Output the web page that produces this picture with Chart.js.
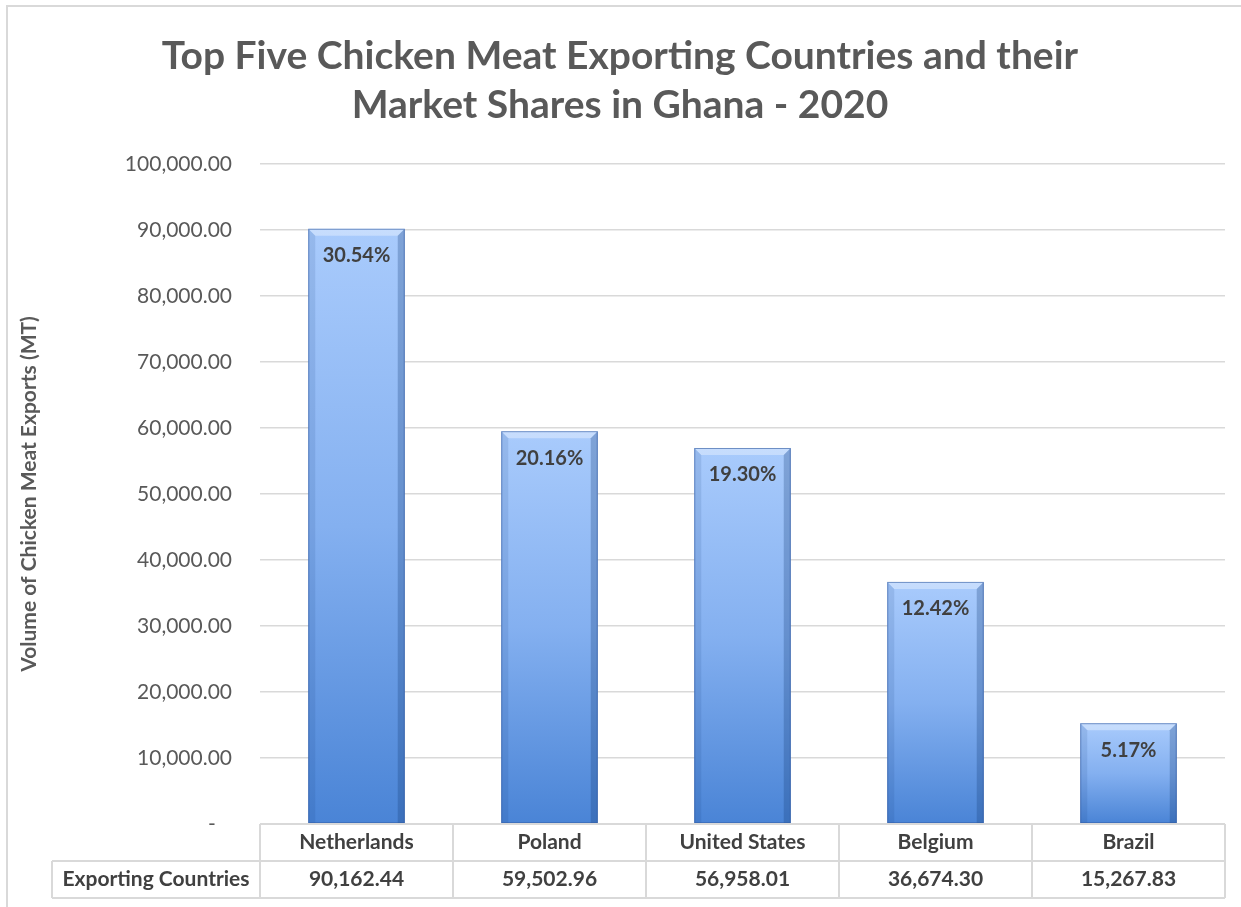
<!DOCTYPE html>
<html>
<head>
<meta charset="utf-8">
<script src="https://cdn.jsdelivr.net/npm/chart.js@4/dist/chart.umd.min.js"></script>
<style>body{margin:0;background:#fff}</style>
</head>
<body>
<canvas id="exports" width="1241" height="907"></canvas>
<script>
// chart values
const countries = ['Netherlands', 'Poland', 'United States', 'Belgium', 'Brazil'];
const volumes = [90162.44, 59502.96, 56958.01, 36674.30, 15267.83];
const shares = ['30.54%', '20.16%', '19.30%', '12.42%', '5.17%'];
const tableRowLabel = 'Exporting Countries';

const FONT = 'Lato';
const fmt = v => v.toLocaleString('en-US', { minimumFractionDigits: 2, maximumFractionDigits: 2 });

// light grey frame round the whole chart
const framePlugin = {
    id: 'frame',
    beforeDraw(chart) {
        const ctx = chart.ctx;
        ctx.save();
        ctx.strokeStyle = '#d9d9d9';
        ctx.lineWidth = 2;
        ctx.strokeRect(7, 6, chart.width, chart.height);
        ctx.restore();
    }
};

// per-bar gradient, bevel and the share labels
const barStylePlugin = {
    id: 'barStyle',
    beforeDatasetsDraw(chart) {
        const ctx = chart.ctx;
        chart.getDatasetMeta(0).data.forEach(bar => {
            const g = ctx.createLinearGradient(0, bar.y, 0, bar.base);
            g.addColorStop(0, '#a9cbfc');
            g.addColorStop(0.5, '#84b0f0');
            g.addColorStop(1, '#4a84d6');
            bar.options.backgroundColor = g;
        });
    },
    afterDatasetsDraw(chart) {
        const ctx = chart.ctx;
        const b = 7;
        chart.getDatasetMeta(0).data.forEach((bar, i) => {
            const left = bar.x - bar.width / 2, right = bar.x + bar.width / 2;
            const top = bar.y, base = bar.base;
            ctx.save();
            // top bevel
            ctx.fillStyle = 'rgba(255,255,255,0.35)';
            ctx.beginPath();
            ctx.moveTo(left, top); ctx.lineTo(right, top);
            ctx.lineTo(right - b, top + b); ctx.lineTo(left + b, top + b);
            ctx.closePath(); ctx.fill();
            // left edge
            ctx.fillStyle = 'rgba(20,60,120,0.12)';
            ctx.beginPath();
            ctx.moveTo(left, top); ctx.lineTo(left + b, top + b);
            ctx.lineTo(left + b, base); ctx.lineTo(left, base);
            ctx.closePath(); ctx.fill();
            // right edge
            ctx.fillStyle = 'rgba(20,60,120,0.28)';
            ctx.beginPath();
            ctx.moveTo(right, top); ctx.lineTo(right - b, top + b);
            ctx.lineTo(right - b, base); ctx.lineTo(right, base);
            ctx.closePath(); ctx.fill();
            // outline
            ctx.strokeStyle = 'rgba(50,90,160,0.6)';
            ctx.lineWidth = 1;
            ctx.strokeRect(left + 0.5, top + 0.5, bar.width - 1, base - top - 1);
            // share label
            ctx.fillStyle = '#404040';
            ctx.font = 'bold 20px ' + FONT;
            ctx.textAlign = 'center';
            ctx.textBaseline = 'middle';
            ctx.fillText(shares[i], bar.x, top + 27);
            ctx.restore();
        });
    }
};

// data table under the plot
const dataTablePlugin = {
    id: 'dataTable',
    afterDraw(chart) {
        const ctx = chart.ctx;
        const area = chart.chartArea;
        const xs = chart.scales.x;
        const rowH = 37;
        const y0 = area.bottom, y1 = y0 + rowH, y2 = y1 + rowH;
        const labelLeft = 52;
        const cellW = (area.right - area.left) / countries.length;
        ctx.save();
        ctx.strokeStyle = '#d9d9d9';
        ctx.lineWidth = 2;
        ctx.beginPath();
        ctx.moveTo(area.left, y0); ctx.lineTo(area.right, y0);
        ctx.moveTo(labelLeft, y1); ctx.lineTo(area.right, y1);
        ctx.moveTo(labelLeft, y2); ctx.lineTo(area.right, y2);
        ctx.moveTo(labelLeft, y1); ctx.lineTo(labelLeft, y2);
        for (let i = 0; i <= countries.length; i++) {
            const x = area.left + i * cellW;
            ctx.moveTo(x, y0); ctx.lineTo(x, y2);
        }
        ctx.stroke();

        ctx.fillStyle = '#404040';
        ctx.font = 'bold 21px ' + FONT;
        ctx.textAlign = 'center';
        ctx.textBaseline = 'middle';
        countries.forEach((c, i) => {
            const x = xs.getPixelForValue(i);
            ctx.fillText(c, x, (y0 + y1) / 2);
            ctx.fillText(fmt(volumes[i]), x, (y1 + y2) / 2);
        });
        ctx.fillText(tableRowLabel, (labelLeft + area.left) / 2, (y1 + y2) / 2);
        ctx.restore();
    }
};

const ctxExports = document.getElementById('exports').getContext('2d');
const exportsChart = new Chart(ctxExports, {
    type: 'bar',
    data: {
        labels: countries,
        datasets: [{
            label: 'Volume of Chicken Meat Exports (MT)',
            data: volumes,
            backgroundColor: ctx => '#84b0f0',
            borderWidth: 0,
            barPercentage: 0.5,
            categoryPercentage: 1.0
        }]
    },
    options: {
        responsive: false,
        animation: false,
        layout: { padding: { left: 15, right: 16, top: 0, bottom: 83 } },
        plugins: {
            legend: { display: false },
            tooltip: { enabled: false },
            title: {
                display: true,
                text: ['Top Five Chicken Meat Exporting Countries and their', 'Market Shares in Ghana - 2020'],
                color: '#595959',
                font: { family: FONT, size: 39, weight: 'bold', lineHeight: 1.28 },
                padding: { top: 31, bottom: 33 }
            }
        },
        scales: {
            x: { display: false },
            y: {
                min: 0,
                max: 100000,
                afterFit(scale) { scale.width = 245; },
                ticks: {
                    stepSize: 10000,
                    padding: 28,
                    color: '#595959',
                    font: { family: FONT, size: 21 },
                    callback: v => v === 0 ? '-   ' : fmt(v)
                },
                grid: { color: '#d9d9d9', lineWidth: 1.5, drawTicks: false },
                border: { display: false },
                title: {
                    display: true,
                    text: 'Volume of Chicken Meat Exports (MT)',
                    color: '#595959',
                    font: { family: FONT, size: 21, weight: 'bold' },
                    padding: { top: 2, bottom: 4 }
                }
            }
        }
    },
    plugins: [framePlugin, barStylePlugin, dataTablePlugin]
});
</script>
</body>
</html>
